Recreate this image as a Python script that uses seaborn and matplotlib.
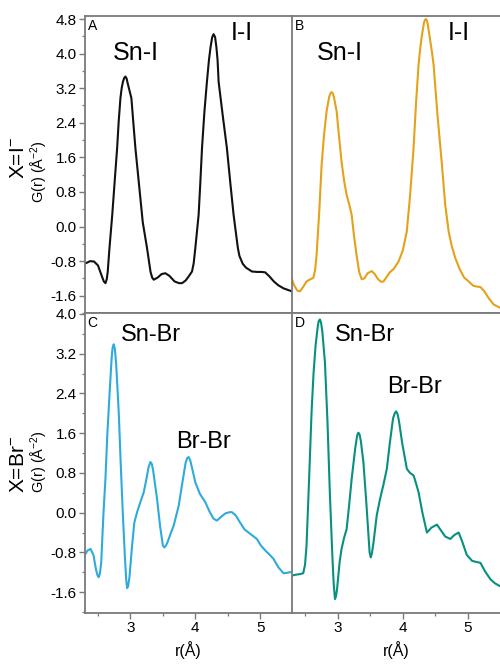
import numpy as np
import matplotlib
matplotlib.use("Agg")
import matplotlib.pyplot as plt
import seaborn as sns
from matplotlib.ticker import MultipleLocator, FuncFormatter

# ---------------- data ----------------
r_A = [2.31, 2.38, 2.44, 2.50, 2.56, 2.59, 2.615, 2.635, 2.65, 2.677, 2.72, 2.76, 2.795, 2.82,
       2.846, 2.865, 2.885, 2.905, 2.923, 2.942, 2.96, 2.985, 3.015, 3.045, 3.077, 3.128, 3.19,
       3.256, 3.31, 3.335, 3.359, 3.42, 3.48, 3.538, 3.60, 3.68, 3.75, 3.795, 3.85, 3.90, 3.949,
       3.975, 4.0, 4.051, 4.075, 4.103, 4.14, 4.179, 4.21, 4.235, 4.26, 4.282, 4.305, 4.325,
       4.343, 4.359, 4.42, 4.487, 4.54, 4.59, 4.656, 4.68, 4.73, 4.78, 4.872, 4.95, 5.02, 5.077,
       5.14, 5.21, 5.28, 5.36, 5.49]
g_A = [-0.85, -0.80, -0.81, -0.90, -1.15, -1.27, -1.31, -1.22, -1.05, -0.50, 0.27, 1.10, 1.81, 2.45,
       2.97, 3.20, 3.35, 3.44, 3.47, 3.42, 3.30, 3.15, 2.97, 2.40, 1.81, 1.04, 0.10,
       -0.50, -1.05, -1.18, -1.23, -1.18, -1.10, -1.08, -1.14, -1.27, -1.31, -1.31, -1.25, -1.15, -1.04,
       -0.85, -0.50, 0.27, 0.95, 1.81, 2.65, 3.35, 3.85, 4.15, 4.38, 4.45, 4.38, 4.15,
       3.85, 3.35, 2.60, 1.81, 1.00, 0.27, -0.50, -0.68, -0.86, -0.95, -1.04, -1.05, -1.05, -1.06,
       -1.15, -1.27, -1.36, -1.43, -1.50]

r_B = [2.292, 2.33, 2.38, 2.42, 2.47, 2.523, 2.58, 2.626, 2.655, 2.677, 2.72, 2.754, 2.79, 2.83,
       2.87, 2.89, 2.908, 2.926, 2.945, 2.985, 3.02, 3.06, 3.10, 3.138, 3.18, 3.215, 3.25, 3.29,
       3.33, 3.369, 3.41, 3.46, 3.523, 3.57, 3.62, 3.67, 3.703, 3.75, 3.80, 3.86, 3.934, 4.00,
       4.06, 4.11, 4.164, 4.20, 4.241, 4.265, 4.29, 4.325, 4.34, 4.354, 4.37, 4.385, 4.42, 4.445,
       4.472, 4.53, 4.60, 4.65, 4.703, 4.75, 4.805, 4.87, 4.94, 5.01, 5.08, 5.14, 5.19, 5.25,
       5.318, 5.39, 5.49]
g_B = [-1.19, -1.35, -1.48, -1.50, -1.40, -1.27, -1.22, -1.19, -1.00, -0.66, 0.40, 1.42, 2.10, 2.66,
       3.00, 3.08, 3.11, 3.08, 2.98, 2.66, 2.10, 1.50, 1.05, 0.73, 0.50, 0.27, -0.20, -0.66,
       -1.05, -1.22, -1.20, -1.08, -1.03, -1.10, -1.22, -1.28, -1.27, -1.17, -1.06, -0.98, -0.81, -0.55,
       -0.12, 0.70, 1.81, 2.80, 3.74, 4.10, 4.40, 4.72, 4.78, 4.80, 4.76, 4.65, 4.30, 4.05,
       3.74, 2.60, 1.42, 0.50, -0.12, -0.45, -0.73, -0.98, -1.18, -1.27, -1.37, -1.39, -1.40, -1.50,
       -1.66, -1.80, -1.88]

r_C = [2.308, 2.34, 2.385, 2.43, 2.47, 2.495, 2.512, 2.53, 2.55, 2.585, 2.615, 2.645, 2.677, 2.71,
       2.725, 2.743, 2.76, 2.78, 2.82, 2.85, 2.882, 2.915, 2.935, 2.949, 2.965, 2.985, 3.026, 3.06,
       3.103, 3.15, 3.205, 3.25, 3.28, 3.308, 3.33, 3.35, 3.41, 3.46, 3.50, 3.523, 3.545, 3.57,
       3.62, 3.667, 3.744, 3.80, 3.85, 3.875, 3.897, 3.92, 3.95, 4.0, 4.07, 4.154, 4.22, 4.28,
       4.333, 4.40, 4.47, 4.53, 4.564, 4.62, 4.70, 4.76, 4.82, 4.88, 4.949, 5.01, 5.077, 5.14,
       5.205, 5.28, 5.359, 5.42, 5.49]
g_C = [-0.83, -0.76, -0.73, -0.85, -1.15, -1.27, -1.30, -1.22, -1.00, 0.00, 0.68, 1.60, 2.36, 3.10,
       3.32, 3.39, 3.30, 3.00, 2.02, 1.00, 0.01, -0.90, -1.35, -1.52, -1.48, -1.30, -0.66, -0.20,
       0.01, 0.20, 0.41, 0.70, 0.92, 1.02, 0.98, 0.85, 0.28, -0.30, -0.66, -0.70, -0.67, -0.60,
       -0.42, -0.26, 0.14, 0.60, 1.00, 1.10, 1.12, 1.06, 0.90, 0.61, 0.38, 0.21, 0.02, -0.12,
       -0.16, -0.08, -0.01, 0.01, 0.01, -0.05, -0.22, -0.34, -0.40, -0.46, -0.53, -0.66, -0.76, -0.84,
       -0.93, -1.10, -1.22, -1.21, -1.19]

r_D = [2.292, 2.35, 2.41, 2.472, 2.50, 2.523, 2.56, 2.60, 2.63, 2.662, 2.695, 2.71, 2.728, 2.745,
       2.765, 2.805, 2.845, 2.882, 2.92, 2.94, 2.959, 2.975, 2.99, 3.03, 3.06, 3.10, 3.138, 3.18,
       3.215, 3.27, 3.30, 3.318, 3.335, 3.355, 3.395, 3.44, 3.475, 3.49, 3.508, 3.525, 3.55, 3.60,
       3.651, 3.70, 3.754, 3.80, 3.85, 3.875, 3.897, 3.92, 3.94, 3.99, 4.062, 4.11, 4.164, 4.20,
       4.241, 4.30, 4.369, 4.44, 4.523, 4.58, 4.65, 4.728, 4.79, 4.856, 4.91, 4.98, 5.062, 5.12,
       5.19, 5.26, 5.343, 5.41, 5.49]
g_D = [-1.27, -1.25, -1.24, -1.22, -1.05, -0.66, 0.60, 2.02, 2.80, 3.37, 3.75, 3.86, 3.89, 3.83,
       3.65, 3.03, 1.80, 0.34, -0.90, -1.45, -1.74, -1.68, -1.55, -1.00, -0.73, -0.50, -0.33, 0.20,
       0.68, 1.30, 1.56, 1.61, 1.58, 1.45, 1.02, 0.20, -0.50, -0.80, -0.90, -0.82, -0.60, -0.05,
       0.28, 0.55, 0.88, 1.40, 1.90, 2.00, 2.04, 1.98, 1.85, 1.40, 0.88, 0.80, 0.75, 0.60,
       0.41, 0.00, -0.40, -0.30, -0.24, -0.35, -0.48, -0.53, -0.45, -0.40, -0.58, -0.85, -0.97, -0.99,
       -1.01, -1.18, -1.34, -1.42, -1.48]

panel_letters = ["A", "B", "C", "D"]
row_labels = ["X=I$^{\\mathrm{-}}$", "X=Br$^{\\mathrm{-}}$"]
y_label = "G(r) (Å$^{\\mathrm{-2}}$)"
x_label = "r(Å)"
peak_labels = [("Sn-I", "I-I"), ("Sn-I", "I-I"), ("Sn-Br", "Br-Br"), ("Sn-Br", "Br-Br")]
colors = ["#111111", "#E3A21A", "#2EAADC", "#08907E"]

# ---------------- style ----------------
sns.set_theme(style="ticks")
plt.rcParams["font.family"] = ["Liberation Sans", "DejaVu Sans"]
plt.rcParams["mathtext.fontset"] = "custom"
plt.rcParams["mathtext.rm"] = "Liberation Sans"
plt.rcParams["mathtext.it"] = "Liberation Sans:italic"
plt.rcParams["mathtext.bf"] = "Liberation Sans:bold"
plt.rcParams["text.color"] = "black"
plt.rcParams["axes.labelcolor"] = "black"

fig = plt.figure(figsize=(5.0, 6.64), dpi=100)
W, H = 500.0, 664.0
xl, xm, xr = 85 / W, 292 / W, 1.0
yt_top, y_mid, y_bot = 1 - 16 / H, 1 - 313 / H, 1 - 613 / H

axA = fig.add_axes([xl, y_mid, xm - xl, yt_top - y_mid])
axB = fig.add_axes([xm, y_mid, xr - xm, yt_top - y_mid])
axC = fig.add_axes([xl, y_bot, xm - xl, y_mid - y_bot])
axD = fig.add_axes([xm, y_bot, xr - xm, y_mid - y_bot])
axes = [axA, axB, axC, axD]
data = [(r_A, g_A), (r_B, g_B), (r_C, g_C), (r_D, g_D)]

spine_col = "#7a7a7a"
for i, (ax, (r, g)) in enumerate(zip(axes, data)):
    sns.lineplot(x=r, y=g, ax=ax, color=colors[i], linewidth=1.5, estimator=None, sort=False)
    ax.lines[-1].set_solid_joinstyle("round")
    ax.set_xlim(2.3, 5.49)
    if i < 2:
        ax.set_ylim(-2.0, 4.87)
    else:
        ax.set_ylim(-2.02, 4.02)
    for s in ax.spines.values():
        s.set_color(spine_col)
        s.set_linewidth(1.3)
    ax.spines["right"].set_visible(False)
    ax.xaxis.set_major_locator(MultipleLocator(1))
    ax.xaxis.set_minor_locator(MultipleLocator(0.5))
    ax.yaxis.set_major_locator(MultipleLocator(0.8))
    ax.yaxis.set_minor_locator(MultipleLocator(0.4))
    ax.tick_params(axis="both", which="major", direction="out", length=4, width=1.0,
                   color=spine_col, labelsize=11, pad=2, labelcolor="black")
    ax.tick_params(axis="both", which="minor", direction="out", length=2.5, width=0.9,
                   color=spine_col)
    if i < 2:
        ax.tick_params(axis="x", which="both", bottom=False, labelbottom=False)
    if i % 2 == 1:
        ax.tick_params(axis="y", which="both", left=False, labelleft=False)
    else:
        ax.yaxis.set_major_formatter(FuncFormatter(lambda v, p: f"{v:.1f}"))
    if i >= 2:
        ax.set_xlabel(x_label, fontsize=11.5, labelpad=4, color="black")
    else:
        ax.set_xlabel("")
    ax.set_ylabel("")
    ax.text(0.012, 0.99, panel_letters[i], transform=ax.transAxes, ha="left", va="top",
            fontsize=10, color="black")

# peak annotations (data coordinates)
axA.text(3.08, 4.01, peak_labels[0][0], ha="center", va="center", fontsize=18)
axA.text(4.72, 4.48, peak_labels[0][1], ha="center", va="center", fontsize=18)
axB.text(3.03, 4.01, peak_labels[1][0], ha="center", va="center", fontsize=18)
axB.text(4.86, 4.48, peak_labels[1][1], ha="center", va="center", fontsize=18)
axC.text(3.31, 3.58, peak_labels[2][0], ha="center", va="center", fontsize=17)
axC.text(4.12, 1.42, peak_labels[2][1], ha="center", va="center", fontsize=17)
axD.text(3.42, 3.58, peak_labels[3][0], ha="center", va="center", fontsize=17)
axD.text(4.18, 2.53, peak_labels[3][1], ha="center", va="center", fontsize=17)

# row labels
fig.text(18 / W, 1 - 158 / H, row_labels[0], rotation=90, ha="center", va="center", fontsize=15)
fig.text(39 / W, 1 - 172 / H, y_label, rotation=90, ha="center", va="center", fontsize=10.5)
fig.text(18 / W, 1 - 464 / H, row_labels[1], rotation=90, ha="center", va="center", fontsize=15)
fig.text(39 / W, 1 - 462 / H, y_label, rotation=90, ha="center", va="center", fontsize=10.5)

fig.savefig("out.png", dpi=100)
